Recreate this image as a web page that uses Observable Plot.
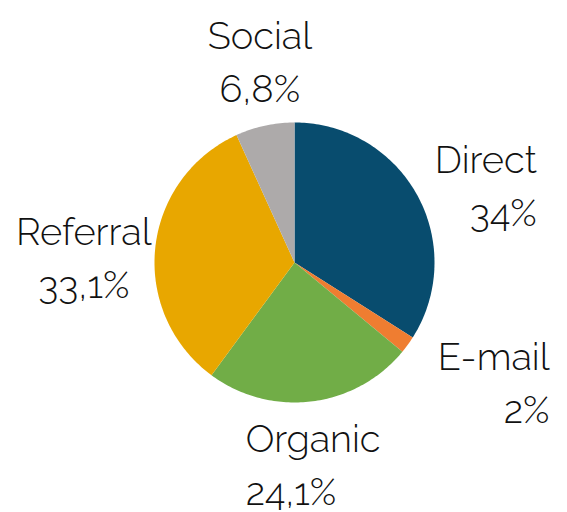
<!DOCTYPE html>
<html>
<head>
<meta charset="utf-8">
<script src="https://cdn.jsdelivr.net/npm/d3@7"></script>
<script src="https://cdn.jsdelivr.net/npm/@observablehq/plot@0.6"></script>
<style>
  html, body { margin: 0; padding: 0; background: #fff; }
  #chart { width: 567px; height: 512px; }
  svg { font-family: Raleway, Lato, "Open Sans", sans-serif; }
</style>
</head>
<body>
<div id="chart"></div>
<script>
const categories = ["Direct", "E-mail", "Organic", "Referral", "Social"];
const shares = [34, 2, 24.1, 33.1, 6.8];
const colors = ["#084c6e", "#ef7d31", "#71ad47", "#e8a700", "#adaaaa"];

const data = categories.map((c, i) => ({name: c, value: shares[i]}));
const arcs = d3.pie().sort(null).value(d => d.value).startAngle(0).endAngle(2 * Math.PI)(data);

// Build slice outlines (unit radius) from pie angles
const slicePts = [];
for (const a of arcs) {
  const n = Math.max(2, Math.ceil((a.endAngle - a.startAngle) / (Math.PI / 180)));
  slicePts.push({name: a.data.name, x: 0, y: 0});
  for (let k = 0; k <= n; k++) {
    const t = a.startAngle + (a.endAngle - a.startAngle) * k / n;
    slicePts.push({name: a.data.name, x: Math.sin(t), y: Math.cos(t)});
  }
  slicePts.push({name: a.data.name, x: 0, y: 0});
}

const fmt = v => String(v).replace(".", ",") + "%";
const labels = arcs.map(a => {
  const mid = (a.startAngle + a.endAngle) / 2;
  const r = a.data.value < 5 ? 1.66 : 1.47;
  return {name: a.data.name, text: a.data.name + "\n" + fmt(a.data.value), x: r * Math.sin(mid), y: r * Math.cos(mid)};
});

// label alignment / nudges (pixels), layout only
const labelLayout = {
  "Direct":   {anchor: "end",    dx: 62, dy: 19},
  "E-mail":   {anchor: "end",    dx: 67, dy: -20},
  "Organic":  {anchor: "start",  dx: -74, dy: -5},
  "Referral": {anchor: "middle", dx: -6, dy: 13},
  "Social":   {anchor: "middle", dx: 9, dy: -3}
};

const R = 140, cx = 294, cy = 262, W = 567, H = 512;
const chart = Plot.plot({
  width: W,
  height: H,
  margin: 0,
  x: {domain: [-cx / R, (W - cx) / R], axis: null},
  y: {domain: [-(H - cy) / R, cy / R], axis: null},
  color: {domain: categories, range: colors},
  marks: [
    Plot.line(slicePts, {x: "x", y: "y", z: "name", fill: "name", stroke: "none", curve: "linear"}),
    ...labels.map(l => Plot.text([l], {
      x: "x", y: "y", text: "text",
      fontSize: 38, fontWeight: 300, lineHeight: 1.4, fill: "#111",
      textAnchor: labelLayout[l.name].anchor,
      dx: labelLayout[l.name].dx, dy: labelLayout[l.name].dy
    }))
  ]
});
document.getElementById("chart").appendChild(chart);
</script>
</body>
</html>
